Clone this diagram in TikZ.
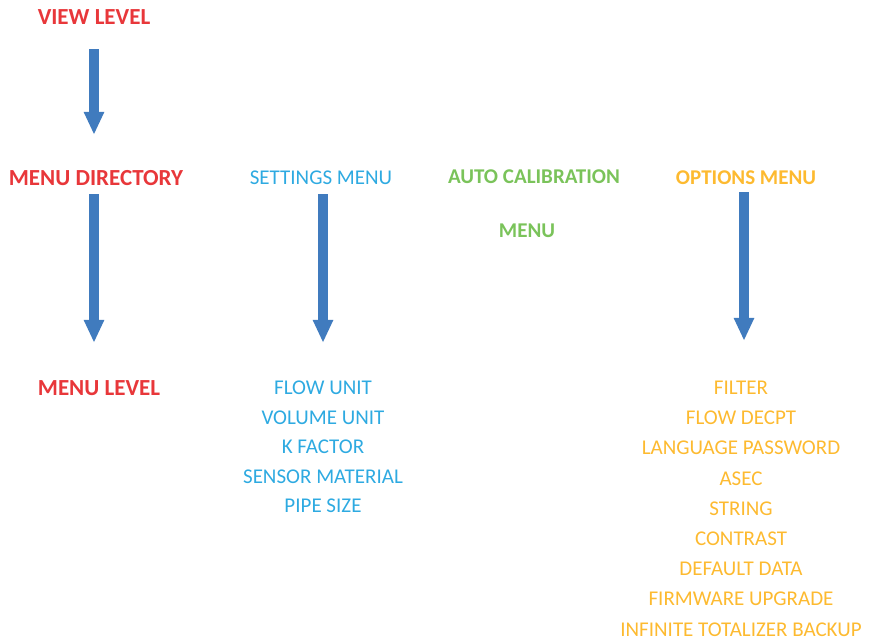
\documentclass[tikz,border=0pt]{standalone}
\usepackage{fontspec}
\setmainfont{Carlito}
\usetikzlibrary{arrows.meta}
\definecolor{lvlred}{RGB}{232,55,58}
\definecolor{setblue}{RGB}{46,170,225}
\definecolor{calgreen}{RGB}{122,195,90}
\definecolor{optorange}{RGB}{253,186,48}
\definecolor{arrowblue}{RGB}{64,123,190}
\tikzset{
  lbl/.style={inner sep=0pt, text height=13pt, text depth=0pt, yshift=-1pt, font=\fontsize{21}{25}\selectfont},
  lvl/.style={lbl, lvlred, text height=14pt, font=\fontsize{23}{27}\selectfont\bfseries},
  setitem/.style={lbl, setblue},
  calitem/.style={lbl, calgreen, font=\fontsize{21}{25}\selectfont\bfseries},
  optitem/.style={lbl, optorange},
  bigarrow/.style={arrowblue, line width=10pt, -{Triangle[width=19pt,length=23pt]},
    shorten <=9.5pt, shorten >=38.5pt}
}
\begin{document}
\begin{tikzpicture}[x=1pt,y=-1pt]
\useasboundingbox (0,0) rectangle (869,642);
% level column
\node[lvl] (view) at (94,17) {VIEW LEVEL};
\node[lvl] (dir) at (96,177) {MENU DIRECTORY};
\node[lvl] (level) at (99,387) {MENU LEVEL};
% headers
\node[setitem] (settings) at (321,177) {SETTINGS MENU};
\node[calitem] (autocal) at (534,176) {AUTO CALIBRATION};
\node[calitem] (calmenu) at (527,230) {MENU};
\node[optitem, font=\fontsize{21}{25}\selectfont\bfseries] (options) at (746,177) {OPTIONS MENU};
% settings items
\foreach [count=\i] \t in {FLOW UNIT, VOLUME UNIT, K FACTOR, SENSOR MATERIAL, PIPE SIZE}
{
\node[setitem] (s\i) at (323,{387+29.5*(\i-1)}) {\t};
}
% options items
\foreach [count=\i] \t in {FILTER, FLOW DECPT, LANGUAGE PASSWORD, ASEC, STRING, CONTRAST, DEFAULT DATA, FIRMWARE UPGRADE, INFINITE TOTALIZER BACKUP}
{
\node[optitem] (o\i) at (741,{387+30.2*(\i-1)}) {\t};
}
% arrows
\draw[bigarrow, shorten <=24pt, shorten >=36pt] (view.south) -- (view.south |- dir.north);
\draw[bigarrow, shorten <=9pt, shorten >=38pt] (view.south |- dir.south) -- (view.south |- level.north);
\draw[bigarrow] (s1.north |- settings.south) -- (s1.north);
\draw[bigarrow, shorten <=7.5pt, shorten >=40.5pt] ([xshift=3pt]o1.north |- options.south) -- ([xshift=3pt]o1.north);
\end{tikzpicture}
\end{document}
